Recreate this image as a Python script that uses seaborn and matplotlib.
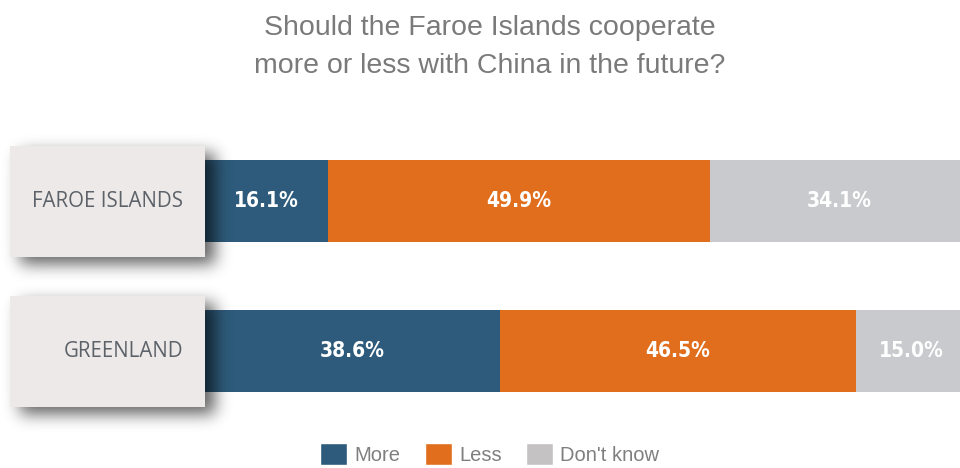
import numpy as np
import pandas as pd
import matplotlib.pyplot as plt
import seaborn as sns
from matplotlib.patches import Rectangle, Patch

# datos
regiones = ["FAROE ISLANDS", "GREENLAND"]
mas = [16.1, 38.6]
menos = [49.9, 46.5]
no_sabe = [34.1, 15.0]
series = ["More", "Less", "Don't know"]
colores = ["#2e5b7b", "#e06e1d", "#c9cacd"]
color_leyenda_ns = "#c4c2c2"

sns.set_theme(style="white")
plt.rcParams["font.family"] = ["Liberation Sans", "DejaVu Sans"]

df = pd.DataFrame({"Region": regiones, "More": mas, "Less": menos, "Don't know": no_sabe})
df["c1"] = df["More"]
df["c2"] = df["More"] + df["Less"]
df["c3"] = df["c2"] + df["Don't know"]

W_FIG, H_FIG = 960, 468
fig = plt.figure(figsize=(W_FIG / 100, H_FIG / 100), dpi=100)
ax = fig.add_axes([205 / W_FIG, (H_FIG - 440) / H_FIG, 755 / W_FIG, 330 / H_FIG])

ancho = 82 / 150
# barras apiladas: se dibujan de la suma total hacia atrás
for col, c in zip(["c3", "c2", "c1"], colores[::-1]):
    sns.barplot(data=df, x=col, y="Region", orient="h", color=c, width=ancho,
                saturation=1, ax=ax, edgecolor="none", linewidth=0)

# el gráfico original está recortado por la derecha
xmax = 98.7
ax.set_xlim(0, xmax)
ax.set_ylim(1.593, -0.607)
ax.axis("off")

# etiquetas de valores
for i, fila in df.iterrows():
    inicio = 0
    for s in series:
        v = fila[s]
        centro = inicio + v / 2
        if inicio + v > xmax:
            centro = (inicio + xmax + 1) / 2
        ax.text(centro, i, f"{v:.1f}%", ha="center", va="center", color="white",
                fontsize=15, fontweight="bold", fontstretch="condensed",
                family=["DejaVu Sans"])
        inicio += v


# sombra difuminada (gaussiana) para las cajas
def sombra(w, h, pad=36, dx=10, dy=7, sigma=8.0, alfa=0.62):
    H, W = h + 2 * pad, w + 2 * pad
    m = np.zeros((H, W))
    m[pad + dy:pad + dy + h, pad + dx:pad + dx + w] = 1.0
    r = np.arange(-3 * int(sigma), 3 * int(sigma) + 1)
    k = np.exp(-r ** 2 / (2 * sigma ** 2))
    k /= k.sum()
    m = np.apply_along_axis(lambda f: np.convolve(f, k, mode="same"), 0, m)
    m = np.apply_along_axis(lambda f: np.convolve(f, k, mode="same"), 1, m)
    img = np.zeros((H, W, 4))
    img[..., 3] = m * alfa
    return img


caja_x, caja_w, caja_h = 10, 195, 111
caja_top = [146, 296]
pad = 36
for i, nombre in enumerate(regiones):
    top = caja_top[i]
    img = sombra(caja_w, caja_h, pad=pad)
    fig.figimage(img, xo=caja_x - pad, yo=H_FIG - (top - pad + img.shape[0]),
                 origin="upper", zorder=2)
    fig.add_artist(Rectangle((caja_x / W_FIG, (H_FIG - top - caja_h) / H_FIG),
                             caja_w / W_FIG, caja_h / H_FIG, transform=fig.transFigure,
                             facecolor="#ece9e8", edgecolor="none", zorder=3))
    fig.text(183 / W_FIG, 1 - (top + caja_h / 2) / H_FIG, nombre, ha="right", va="center",
             color="#5d6269", fontsize=14.8, family=["Open Sans", "DejaVu Sans"], zorder=4)

# título
fig.text(0.51, 1 - 47 / H_FIG, "Should the Faroe Islands cooperate\nmore or less with China in the future?",
         ha="center", va="center", fontsize=20.5, color="#7a7a7a", linespacing=1.62)

# leyenda
handles = [Patch(facecolor=colores[0]), Patch(facecolor=colores[1]), Patch(facecolor=color_leyenda_ns)]
fig.legend(handles, series, loc="center", bbox_to_anchor=(0.51, 1 - 454 / H_FIG), ncol=3,
           frameon=False, fontsize=14.5, labelcolor="#7f7f7f", handlelength=1.35,
           handleheight=1.35, handletextpad=0.35, columnspacing=1.2)

plt.savefig("out.png", dpi=100)
